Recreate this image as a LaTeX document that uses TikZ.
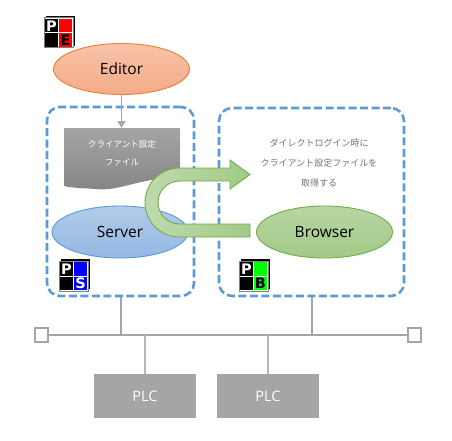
\documentclass[tikz,border=0pt]{standalone}
\usepackage{fontspec}
\setmainfont{Open Sans}
\newfontfamily\jpfont{Noto Sans CJK JP}
\newfontfamily\iconfont{DejaVu Sans}
\usetikzlibrary{arrows.meta, shapes.geometric}

\definecolor{dashblue}{HTML}{5B9BD5}
\definecolor{netgray}{HTML}{A5A5A5}
\definecolor{arrowgreen}{HTML}{70AD47}
\definecolor{editortop}{HTML}{F8C3A8}
\definecolor{editorbot}{HTML}{F4AB88}
\definecolor{editorline}{HTML}{ED7D31}
\definecolor{servertop}{HTML}{B2CBE9}
\definecolor{serverbot}{HTML}{94B8E3}

\tikzset{
    appnode/.style={ellipse, draw, line width=0.9pt, inner sep=0pt, minimum width=136pt, minimum height=52pt, font=\fontsize{15.5}{18}\selectfont},
    groupbox/.style={draw=dashblue, line width=2.6pt, dash pattern=on 8pt off 3.5pt, rounded corners=13pt, inner sep=0pt},
    plcbox/.style={fill=netgray, text=white, inner sep=0pt, minimum width=102pt, minimum height=44pt, font=\fontsize{14.5}{17}\selectfont},
    busend/.style={draw=netgray, fill=white, line width=2pt, inner sep=0pt, minimum width=12.5pt, minimum height=14pt},
    netline/.style={draw=netgray, line width=2pt},
    iconcell/.style={font=\iconfont\bfseries\fontsize{14.5}{14.5}\selectfont, inner sep=0pt}
}

% x, y of lower left corner, colour, letter, letter colour
\newcommand{\appicon}[6]{
    \fill[black] (#2+2,#3+2) rectangle ++(29,30);
    \fill[white, draw=gray, line width=1pt] (#2,#3) rectangle ++(29,30);
    \fill[black] (#2+1,#3+15.5) rectangle ++(13,13.5);
    \fill[#4] (#2+15,#3+15.5) rectangle ++(13,13.5);
    \fill[black] (#2+1,#3+1) rectangle ++(13,13.5);
    \fill[#4] (#2+15,#3+1) rectangle ++(13,13.5);
    \node[iconcell, text=white] (#1p) at (#2+7.5,#3+22) {P};
    \node[iconcell, text=#6] (#1l) at (#2+21.5,#3+7.8) {#5};
}

\begin{document}
\begin{tikzpicture}[x=1pt, y=1pt, >={Triangle[length=7pt, width=8pt]}]
    \useasboundingbox (0,0) rectangle (452,440);

    \node[groupbox, minimum width=147pt, minimum height=189pt] (serverbox) at (120.5,238.5) {};
    \node[groupbox, minimum width=185pt, minimum height=188pt] (browserbox) at (311.5,238) {};

    \node[appnode, draw=editorline, top color=editortop, bottom color=editorbot, minimum height=51pt] (editor) at (121.5,371) {Editor};

    % file symbol
    \shade[top color=netgray, bottom color=black!48] (64,312) -- (180,312) -- (180,262)
        .. controls (140,263) and (120,248) .. (95,251)
        .. controls (82,252) and (72,252) .. (64,254) -- cycle;
    \coordinate (filetop) at (122,312);
    \node[text=white, align=center, font=\jpfont\fontsize{8.5}{18}\selectfont] (file) at (122,287) {クライアント設定\\ファイル};
    \draw[netline, ->, line width=1.8pt, color=netgray] (editor.south) -- (editor.south |- filetop);

    \node[appnode, draw=dashblue, top color=servertop, bottom color=serverbot] (server) at (120,208) {Server};
    \node[appnode, draw=arrowgreen, top color=arrowgreen!50!white, bottom color=arrowgreen!65!white] (browser) at (324.5,208) {Browser};

    \node[text=black!55, align=center, font=\jpfont\fontsize{9}{20}\selectfont] (message) at (319,277) {ダイレクトログイン時に\\クライアント設定ファイルを\\取得する};

    % turning arrow
    \shade[left color=arrowgreen!45!white, right color=arrowgreen!65!white, draw=arrowgreen, line width=0.9pt]
        (250,203) -- (179.5,203) arc (270:90:34.5) -- (230,272) -- (230,280) -- (250,265.5)
        -- (230,251) -- (230,259) -- (179.5,259) arc (90:270:21.5) -- (250,216) -- cycle;

    \appicon{editoricon}{44}{392}{red}{E}{black}
    \appicon{servericon}{59}{149}{blue}{S}{white}
    \appicon{browsericon}{239}{149}{green}{B}{black}

    % network
    \node[busend] (busleft) at (41.5,105) {};
    \node[busend] (busright) at (414.5,105) {};
    \node[plcbox] (plcone) at (145,44) {PLC};
    \node[plcbox] (plctwo) at (268,44) {PLC};
    \draw[netline] (busleft) -- (busright);
    \draw[netline] (serverbox.south) -- (serverbox.south |- busleft);
    \draw[netline] (browserbox.south) -- (browserbox.south |- busleft);
    \draw[netline, draw=netgray!80] (plcone.north) -- (plcone.north |- busleft);
    \draw[netline, draw=netgray!80] (plctwo.north) -- (plctwo.north |- busleft);
\end{tikzpicture}
\end{document}
